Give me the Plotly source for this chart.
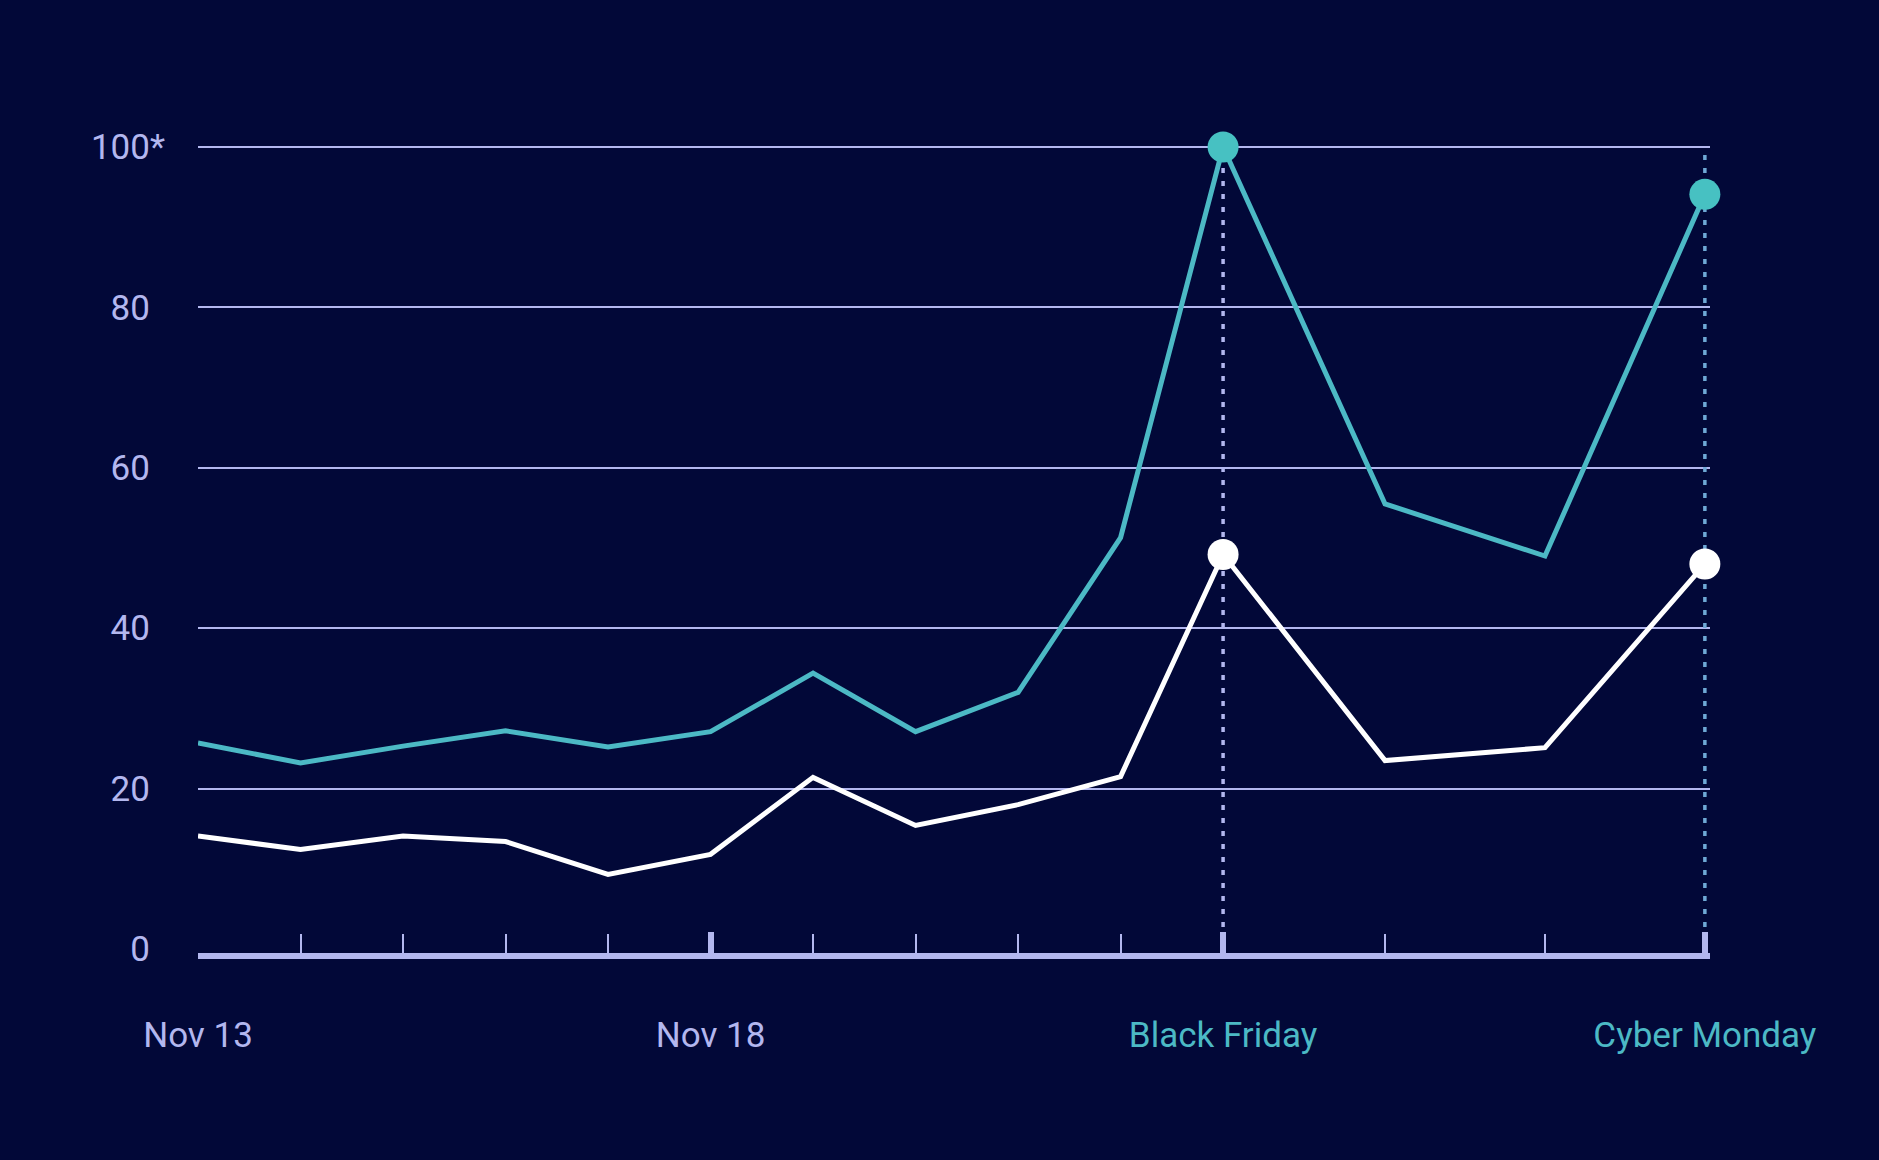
import plotly.graph_objects as go

# ---- data ----
days = ["Nov 13", "Nov 14", "Nov 15", "Nov 16", "Nov 17", "Nov 18", "Nov 19",
        "Nov 20", "Nov 21", "Nov 22", "Nov 23", "Nov 24", "Nov 25", "Nov 26"]
# horizontal slot of each day (the chart widens the spacing after Black Friday)
x_slot = [0, 1, 2, 3, 4, 5, 6, 7, 8, 9, 10, 11.58, 13.14, 14.7]
teal_values = [25.7, 23.2, 25.3, 27.2, 25.2, 27.1, 34.4, 27.1, 32.0, 51.3, 100, 55.5, 49.0, 94.1]
white_values = [14.1, 12.4, 14.1, 13.4, 9.3, 11.8, 21.4, 15.4, 18.0, 21.5, 49.2, 23.5, 25.1, 48.0]
label_idx = [0, 5, 10, 13]
label_text = ["Nov 13", "Nov 18", "Black Friday", "Cyber Monday"]
highlight_idx = [10, 13]
y_ticks = [0, 20, 40, 60, 80, 100]
y_tick_text = ["0", "20", "40", "60", "80", "100*"]

# ---- style ----
BG = "#020838"
LAV = "#b3b7ef"
TEAL = "#4cb9c5"
TEAL_MARK = "#47c1c2"
CM_DOT = "#6fa9d6"
FONT = "Roboto"
Y_MIN, Y_MAX = -0.5, 102

fig = go.Figure()

# dotted guide lines
bf, cm = highlight_idx
fig.add_trace(go.Scatter(x=[x_slot[bf], x_slot[bf]], y=[Y_MIN, teal_values[bf]], mode="lines",
                         line=dict(color=LAV, width=3.5, dash="5px,8px"), hoverinfo="skip",
                         showlegend=False, cliponaxis=False))
fig.add_trace(go.Scatter(x=[x_slot[cm], x_slot[cm]], y=[Y_MIN, y_ticks[-1]], mode="lines",
                         line=dict(color=CM_DOT, width=3.5, dash="5px,8px"), hoverinfo="skip",
                         showlegend=False, cliponaxis=False))

# series lines
fig.add_trace(go.Scatter(x=x_slot, y=teal_values, mode="lines", text=days,
                         line=dict(color=TEAL, width=5), showlegend=False, cliponaxis=False))
fig.add_trace(go.Scatter(x=x_slot, y=white_values, mode="lines", text=days,
                         line=dict(color="#ffffff", width=5), showlegend=False, cliponaxis=False))

# highlight markers
fig.add_trace(go.Scatter(x=[x_slot[i] for i in highlight_idx], y=[teal_values[i] for i in highlight_idx],
                         mode="markers", marker=dict(color=TEAL_MARK, size=31),
                         showlegend=False, cliponaxis=False))
fig.add_trace(go.Scatter(x=[x_slot[i] for i in highlight_idx], y=[white_values[i] for i in highlight_idx],
                         mode="markers", marker=dict(color="#ffffff", size=31),
                         showlegend=False, cliponaxis=False))

tick_text = []
for i, t in zip(label_idx, label_text):
    if i in highlight_idx:
        tick_text.append(f'<span style="color:{TEAL}">{t}</span>')
    else:
        tick_text.append(t)

y_text = [t if t.endswith("*") else t + '<span style="color:rgba(0,0,0,0)">*</span>' for t in y_tick_text]

fig.update_layout(
    width=1879, height=1160,
    paper_bgcolor=BG, plot_bgcolor=BG,
    margin=dict(l=198, r=169, t=131, b=207),
    font=dict(family=FONT, color=LAV),
    xaxis=dict(
        range=[0, 14.75], showgrid=False, zeroline=False,
        showline=True, linecolor=LAV, linewidth=6,
        tickmode="array", tickvals=[x_slot[i] for i in label_idx], ticktext=tick_text,
        ticks="inside", ticklen=21, tickwidth=6, tickcolor=LAV,
        tickfont=dict(size=35, color=LAV, family=FONT),
        ticklabelstandoff=46,
        minor=dict(tickmode="array",
                   tickvals=[x_slot[i] for i in range(len(x_slot)) if i not in label_idx],
                   ticks="inside", ticklen=19, tickwidth=1.5, tickcolor=LAV, showgrid=False),
    ),
    yaxis=dict(
        range=[Y_MIN, Y_MAX], showgrid=False, zeroline=False, showline=False,
        tickmode="array", tickvals=y_ticks, ticktext=y_text, ticks="",
        tickfont=dict(size=35, color=LAV, family=FONT),
        ticklabelstandoff=32,
        minor=dict(tickmode="array", tickvals=y_ticks[1:], showgrid=True,
                   gridcolor=LAV, gridwidth=1.5, ticks=""),
    ),
    hovermode=False,
)

fig.write_html("out.html", config={"displayModeBar": False},
               post_script="document.body.style.margin='0px';document.body.style.overflow='hidden';")
